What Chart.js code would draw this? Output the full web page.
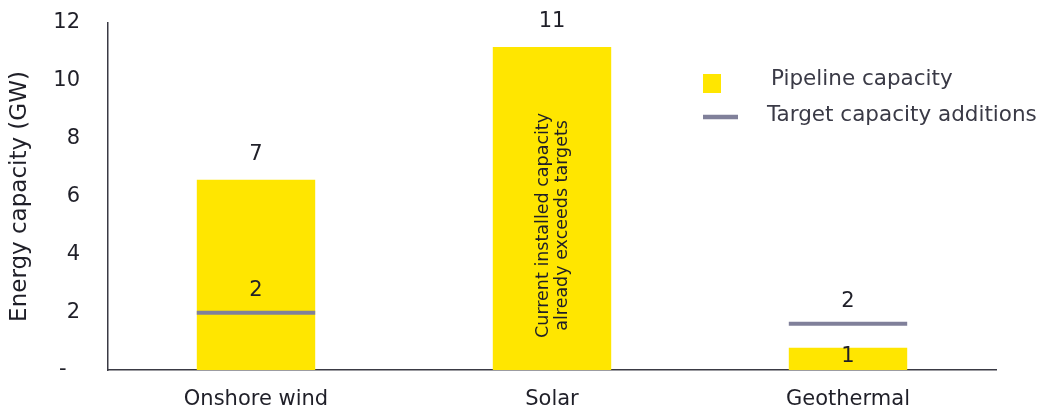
<!DOCTYPE html>
<html><head><meta charset="utf-8">
<script src="https://cdn.jsdelivr.net/npm/chart.js@4"></script>
<style>html,body{margin:0;padding:0;background:#fff}#wrap{width:1042px;height:412px}</style>
</head><body><div id="wrap"><canvas id="c" width="1042" height="412"></canvas></div>
<script>
const categories = ['Onshore wind', 'Solar', 'Geothermal'];
const pipelineCapacity = [6.58, 11.17, 0.77];
const targetAdditions = [1.98, null, 1.6];
const yTicks = [0, 2, 4, 6, 8, 10, 12];
const seriesNames = ['Pipeline capacity', 'Target capacity additions'];
const solarNote = ['Current installed capacity', 'already exceeds targets'];

const FAMILY = '"DejaVu Sans", "Noto Sans", sans-serif';
const TEXT = '#1f1f28';
const LEGEND_TEXT = '#3a3a46';
const AXIS = '#3a3a44';
const YELLOW = '#FFE600';
const GREY = '#80809a';

const overlay = {
  id: 'overlay',
  afterDatasetsDraw(chart) {
    const ctx = chart.ctx, y = chart.scales.y;
    const barMeta = chart.getDatasetMeta(0), tMeta = chart.getDatasetMeta(1);
    ctx.save();
    ctx.fillStyle = TEXT;
    ctx.font = '21px ' + FAMILY;
    ctx.textAlign = 'center';
    ctx.textBaseline = 'middle';
    pipelineCapacity.forEach((v, i) => {
      const bar = barMeta.data[i];
      let ly = bar.y - 25;
      const t = targetAdditions[i];
      if (t != null) {
        const ty = y.getPixelForValue(t);
        if (Math.abs(ly - ty) < 22) ly = bar.y + 9;
      }
      ctx.fillText(String(Math.round(v)), bar.x, ly);
    });
    targetAdditions.forEach((v, i) => {
      if (v == null) return;
      const p = tMeta.data[i];
      ctx.fillText(String(Math.round(v)), p.x, p.y - 22);
    });
    // rotated note in the solar bar
    const sb = barMeta.data[1];
    ctx.save();
    ctx.translate(sb.x, y.getPixelForValue(5));
    ctx.rotate(-Math.PI / 2);
    ctx.font = '17.5px ' + FAMILY;
    ctx.fillText(solarNote[0], 0, -9);
    ctx.fillText(solarNote[1], 0, 10);
    ctx.restore();
    ctx.restore();
  },
  afterDraw(chart) {
    const ctx = chart.ctx;
    ctx.save();
    ctx.font = '21.5px ' + FAMILY;
    ctx.textAlign = 'left';
    ctx.textBaseline = 'middle';
    ctx.fillStyle = YELLOW;
    ctx.fillRect(703, 74, 18, 19);
    ctx.fillStyle = LEGEND_TEXT;
    ctx.fillText(seriesNames[0], 771, 79);
    ctx.strokeStyle = GREY;
    ctx.lineWidth = 4.5;
    ctx.beginPath();
    ctx.moveTo(703, 117);
    ctx.lineTo(738, 117);
    ctx.stroke();
    ctx.fillText(seriesNames[1], 767, 115);
    ctx.restore();
  }
};

new Chart(document.getElementById('c'), {
  data: {
    labels: categories,
    datasets: [
      {
        type: 'bar', label: seriesNames[0], data: pipelineCapacity,
        backgroundColor: YELLOW, borderWidth: 0,
        categoryPercentage: 1, barPercentage: 0.4, order: 1
      },
      {
        type: 'line', label: seriesNames[1], data: targetAdditions,
        showLine: false, pointStyle: 'line',
        pointRadius: (c) => {
          const s = c.chart.scales.x;
          return s && s.width ? s.width / categories.length * 0.4 / 2 : 59;
        },
        pointBorderColor: GREY, pointBackgroundColor: GREY,
        pointBorderWidth: 4, order: 0
      }
    ]
  },
  options: {
    responsive: false, animation: false, events: [],
    devicePixelRatio: 1,
    layout: { autoPadding: false, padding: { top: 23, right: 46, left: 0, bottom: 0 } },
    plugins: { legend: { display: false }, tooltip: { enabled: false } },
    scales: {
      x: {
        ticks: { padding: 17, color: TEXT, font: { size: 21, family: FAMILY } },
        grid: { display: false, drawTicks: false, tickLength: 0 },
        border: { display: true, color: AXIS, width: 1.5 },
        afterFit(s) { s.height = 42; s.paddingLeft = 0; s.paddingRight = 0; }
      },
      y: {
        min: 0, max: 12,
        afterBuildTicks(s) { s.ticks = yTicks.map(v => ({ value: v })); },
        ticks: {
          padding: 28, color: TEXT, font: { size: 21, family: FAMILY },
          callback: (v) => v === 0 ? '-  ' : String(v)
        },
        grid: { display: false, drawTicks: false, tickLength: 0 },
        border: { display: true, color: AXIS, width: 1.5 },
        title: {
          display: true, text: 'Energy capacity (GW)', color: TEXT,
          font: { size: 23, family: FAMILY }, padding: { top: 6, bottom: 0 }
        },
        afterFit(s) { s.width = 108; s.paddingTop = 0; s.paddingBottom = 0; }
      }
    }
  },
  plugins: [overlay]
});
</script>
</body></html>
